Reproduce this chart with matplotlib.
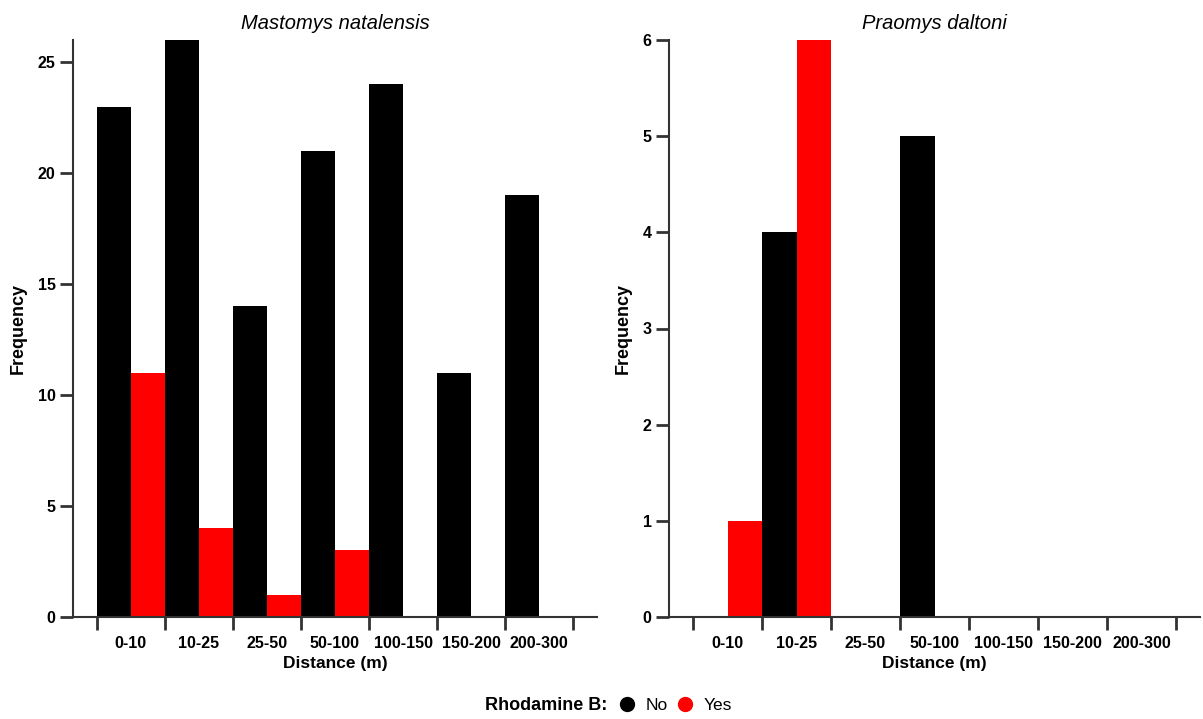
import numpy as np
import matplotlib.pyplot as plt
from matplotlib.lines import Line2D

plt.rcParams['font.family'] = ['Liberation Sans', 'DejaVu Sans']

# Data
categories = ["0-10", "10-25", "25-50", "50-100", "100-150", "150-200", "200-300"]
mastomys_no = [23, 26, 14, 21, 24, 11, 19]
mastomys_yes = [11, 4, 1, 3, 0, 0, 0]
praomys_no = [0, 4, 0, 5, 0, 0, 0]
praomys_yes = [1, 6, 0, 0, 0, 0, 0]

panels = [
    ("Mastomys natalensis", mastomys_no, mastomys_yes, 26, [0, 5, 10, 15, 20, 25]),
    ("Praomys daltoni", praomys_no, praomys_yes, 6, [0, 1, 2, 3, 4, 5, 6]),
]

fig = plt.figure(figsize=(12.03, 7.19), dpi=100)
W, H = 1203, 719
positions = [(73, 597), (669, 1200)]
bottom, top = 617, 40

axis_col = "#333333"
x = np.arange(len(categories))

for (title, no, yes, ymax, yticks), (x0, x1) in zip(panels, positions):
    ax = fig.add_axes([x0 / W, (H - bottom) / H, (x1 - x0) / W, (bottom - top) / H])
    ax.bar(x + 0.25, no, width=0.5, color="black", linewidth=0)
    ax.bar(x + 0.75, yes, width=0.5, color="red", linewidth=0)

    ax.set_xlim(-0.35, len(categories) + 0.35)
    ax.set_ylim(0, ymax)
    ax.set_yticks(yticks)

    # ticks at category boundaries, labels in the middle
    ax.set_xticks(np.arange(len(categories) + 1))
    ax.set_xticklabels([])
    ax.set_xticks(x + 0.5, minor=True)
    ax.set_xticklabels(categories, minor=True, fontweight="bold", fontsize=11.5)
    ax.tick_params(axis="x", which="major", length=9.5, width=2, color=axis_col, direction="out")
    ax.tick_params(axis="x", which="minor", length=0, pad=14)
    ax.tick_params(axis="y", length=9.5, width=2, color=axis_col, direction="out", pad=3)
    for lab in ax.get_yticklabels():
        lab.set_fontweight("bold")
        lab.set_fontsize(11.5)

    for s in ["top", "right"]:
        ax.spines[s].set_visible(False)
    for s in ["left", "bottom"]:
        ax.spines[s].set_linewidth(1.5)
        ax.spines[s].set_color(axis_col)

    ax.set_title(title, fontstyle="italic", fontsize=14.5, pad=8)
    ax.set_xlabel("Distance (m)", fontweight="bold", fontsize=12.5, labelpad=3)
    ax.set_ylabel("Frequency", fontweight="bold", fontsize=13, labelpad=8)

# Legend
fig.text(607 / W, 1 - 705 / H, "Rhodamine B:", fontweight="bold", fontsize=13,
         ha="right", va="center")
handles = [
    Line2D([], [], marker="o", linestyle="", color="black", markersize=10),
    Line2D([], [], marker="o", linestyle="", color="red", markersize=10),
]
fig.legend(handles, ["No", "Yes"], ncol=2, frameon=False, fontsize=12.5,
           loc="center left", bbox_to_anchor=(601 / W, 1 - 705 / H),
           handletextpad=0.45, columnspacing=0.4, handlelength=1.2)

fig.savefig("out.png", dpi=100)
